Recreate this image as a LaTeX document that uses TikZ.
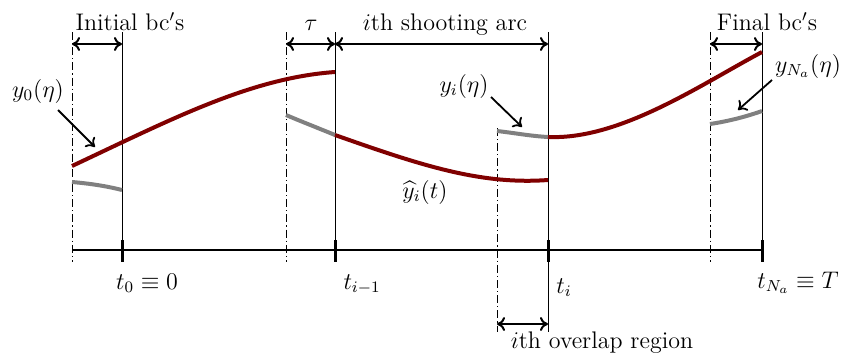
\documentclass[tikz,border=0pt]{standalone}
\usepackage{amsmath,amssymb,tikz}
\usetikzlibrary{arrows.meta}
\definecolor{darkred}{RGB}{128,0,0}
\tikzstyle{lbl}=[font=\fontsize{12}{14}\selectfont,inner sep=0pt]
\tikzstyle{sol}=[line width=2pt,draw=darkred]
\tikzstyle{guess}=[line width=2pt,draw=gray]
\tikzstyle{dimarr}=[{To[length=4pt,width=7pt]}-{To[length=4pt,width=7pt]},line width=1pt]
\tikzstyle{ptr}=[-{To[length=4pt,width=7pt]},line width=0.9pt]
\tikzstyle{bnd}=[line width=0.5pt]
\tikzstyle{ovl}=[line width=0.4pt,dash pattern=on 4pt off 1.5pt on 0.6pt off 1.5pt]
\tikzstyle{tick}=[line width=1.5pt]

\begin{document}
\begin{tikzpicture}[x=0.5pt,y=-0.5pt]
\useasboundingbox (0,0) rectangle (847,360);
% time axis
\coordinate (a0) at (72,250);\coordinate (t0) at (122,250);\coordinate (a1) at (286,250);
\coordinate (t1) at (335,250);\coordinate (a2) at (497,250);\coordinate (t2) at (548,250);
\coordinate (a3) at (710,250);\coordinate (t3) at (762,250);
\draw[line width=1.2pt](a0)--(t3);
\foreach \p in {t0,t1,t2,t3}{\draw[tick](\p)+(0,-10)--+(0,12);}
% boundaries
\draw[bnd](122,32)--(t0);\draw[bnd](335,32)--(t1);\draw[bnd](548,32)--(548,332);\draw[bnd](762,32)--(t3);
\draw[ovl](72,32)--(72,262);\draw[ovl](286,32)--(286,262);\draw[ovl](497,128)--(497,332);\draw[ovl](710,32)--(710,262);
% widths
\coordinate (d0) at (72,44);\coordinate (d1) at (122,44);\coordinate (d2) at (286,44);\coordinate (d3) at (335,44);
\coordinate (d4) at (548,44);\coordinate (d5) at (710,44);\coordinate (d6) at (762,44);
\coordinate (o0) at (497,324);\coordinate (o1) at (548,324);
\draw[dimarr](d0)--(d1);\draw[dimarr](d2)--(d3);\draw[dimarr](d3)--(d4);\draw[dimarr](d5)--(d6);\draw[dimarr](o0)--(o1);
\node[lbl,anchor=base] (ibc) at (130,30) {Initial bc$'$s};
\node[lbl,anchor=base] (tau) at (311,30) {$\tau$};
\node[lbl,anchor=base] (arc) at (445,30) {$i$th shooting arc};
\node[lbl,anchor=base] (fbc) at (767,30) {Final bc$'$s};
\node[lbl,anchor=base] (ovr) at (602,348) {$i$th overlap region};
% arcs
\draw[guess](72,182) .. controls (95,184) and (110,187) .. (122,190);
\draw[guess](286,115) .. controls (300,121) and (318,128) .. (335,135);
\draw[guess](497,131) .. controls (515,133) and (530,136) .. (548,137);
\draw[guess](710,124) .. controls (730,121) and (748,116) .. (762,111);
\draw[sol](72,166) .. controls (170,120) and (250,78) .. (335,72);
\draw[sol](335,135) .. controls (420,165) and (480,185) .. (548,180);
\draw[sol](548,137) .. controls (620,140) and (700,85) .. (762,52);
% labels
\node[lbl,anchor=base] (y0) at (38,97) {$y_0(\eta)$};
\node[lbl,anchor=base] (yi) at (464,92) {$y_i(\eta)$};
\node[lbl,anchor=base] (yN) at (808,72) {$y_{N_a}(\eta)$};
\node[lbl,anchor=base] (yh) at (425,198) {$\widehat{y}_i(t)$};
\coordinate (p0) at (58,110);\coordinate (q0) at (95,147);
\coordinate (p1) at (491,97);\coordinate (q1) at (522,127);
\coordinate (p2) at (772,80);\coordinate (q2) at (738,110);
\draw[ptr](p0)--(q0);\draw[ptr](p1)--(q1);\draw[ptr](p2)--(q2);
\node[lbl,anchor=base] (l0) at (147,289) {$t_0\equiv0$};
\node[lbl,anchor=base] (l1) at (362,289) {$t_{i-1}$};
\node[lbl,anchor=base] (l2) at (564,293) {$t_i$};
\node[lbl,anchor=base] (l3) at (798,288) {$t_{N_a}\equiv T$};
\end{tikzpicture}
\end{document}
